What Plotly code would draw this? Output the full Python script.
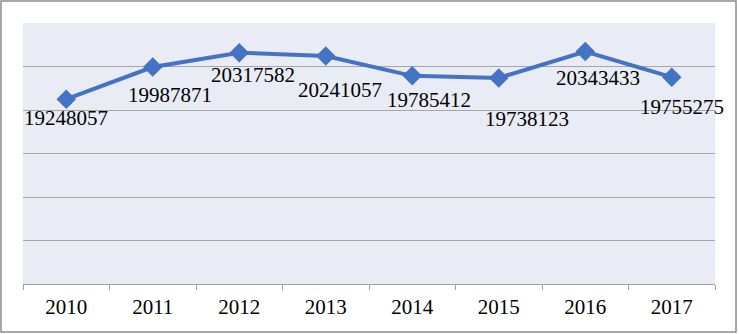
import plotly.graph_objects as go

years = ["2010", "2011", "2012", "2013", "2014", "2015", "2016", "2017"]
values = [19248057, 19987871, 20317582, 20241057, 19785412, 19738123, 20343433, 19755275]
labels = [str(v) for v in values]

# label placement offsets (pixels) as set in the original chart
label_dx = [0, 17, 14, 14, 17, 28, 13, 10]
label_dy = [19, 28, 22, 34, 24, 41, 26, 30]

W, H = 739, 334
ml, mr, mt, mb = 23, 24, 23, 50
pw, ph = W - ml - mr, H - mt - mb

fig = go.Figure()
fig.add_trace(go.Scatter(
    x=years, y=values,
    mode="lines+markers",
    line=dict(color="#4472C4", width=4),
    marker=dict(symbol="diamond", size=15, color="#4472C4"),
    cliponaxis=False,
    showlegend=False,
    hoverinfo="skip",
))

annotations = []
for i, (v, t, dx, dy) in enumerate(zip(values, labels, label_dx, label_dy)):
    annotations.append(dict(
        x=i, y=v, xref="x", yref="y", text=t, showarrow=False,
        xanchor="center", yanchor="middle", xshift=dx, yshift=-dy,
        font=dict(family="Liberation Serif", size=21, color="#000000"),
    ))

fig.update_layout(
    width=W, height=H,
    margin=dict(l=ml, r=mr, t=mt, b=mb),
    paper_bgcolor="#FFFFFF",
    plot_bgcolor="#E9EBF5",
    annotations=annotations,
    xaxis=dict(
        type="category", range=[-0.5, 7.5],
        tickson="boundaries", ticks="outside", ticklen=5, tickcolor="#A0A0A0",
        showline=True, linecolor="#A0A0A0", linewidth=1,
        showgrid=False, ticklabelstandoff=4,
        tickfont=dict(family="Liberation Serif", size=21, color="#000000"),
    ),
    yaxis=dict(
        range=[15000000, 21000000], dtick=1000000,
        showticklabels=False, showline=False, zeroline=False,
        showgrid=True, gridcolor="#A6A6A6", gridwidth=1,
    ),
    shapes=[dict(
        type="rect", xref="paper", yref="paper",
        x0=(1 - ml) / pw, x1=(736 - ml) / pw,
        y0=-(332 - mt - ph) / ph, y1=(ph + mt - 1) / ph,
        line=dict(color="#8C8C8C", width=1.5), layer="above",
    )],
)

fig.write_html("out.html", config={"displayModeBar": False},
               post_script="document.body.style.margin='0px';")
